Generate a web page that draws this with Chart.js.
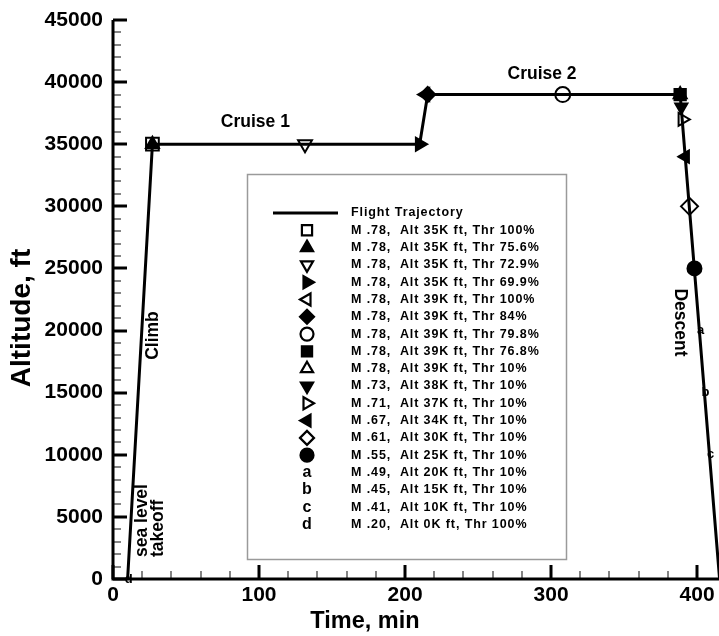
<!DOCTYPE html>
<html>
<head>
<meta charset="utf-8">
<script src="https://cdn.jsdelivr.net/npm/chart.js@4/dist/chart.umd.min.js"></script>
<style>
  html, body { margin: 0; padding: 0; background: #fff; overflow: hidden; }
  #wrap { width: 719px; height: 636px; position: relative; }
</style>
</head>
<body>
<div id="wrap"><canvas id="c"></canvas></div>
<script>
// Flight trajectory: time (min) against altitude (ft)
const trajTime = [10, 27, 210, 215.5, 388.4, 415.4];
const trajAlt  = [0, 35000, 35000, 39000, 39000, 0];

// Operating points along the trajectory
const pointLabels = [
  'M .78,  Alt 35K ft, Thr 100%',
  'M .78,  Alt 35K ft, Thr 75.6%',
  'M .78,  Alt 35K ft, Thr 72.9%',
  'M .78,  Alt 35K ft, Thr 69.9%',
  'M .78,  Alt 39K ft, Thr 100%',
  'M .78,  Alt 39K ft, Thr 84%',
  'M .78,  Alt 39K ft, Thr 79.8%',
  'M .78,  Alt 39K ft, Thr 76.8%',
  'M .78,  Alt 39K ft, Thr 10%',
  'M .73,  Alt 38K ft, Thr 10%',
  'M .71,  Alt 37K ft, Thr 10%',
  'M .67,  Alt 34K ft, Thr 10%',
  'M .61,  Alt 30K ft, Thr 10%',
  'M .55,  Alt 25K ft, Thr 10%',
  'M .49,  Alt 20K ft, Thr 10%',
  'M .45,  Alt 15K ft, Thr 10%',
  'M .41,  Alt 10K ft, Thr 10%',
  'M .20,  Alt 0K ft, Thr 100%'
];
const pointTime = [27, 27, 131.5, 210, 214, 215.5, 308, 388.4, 388.4, 389.2, 389.9, 392.0, 394.8, 398.2, 401.7, 405.1, 408.5, 10];
const pointAlt  = [35000, 35000, 35000, 35000, 39000, 39000, 39000, 39000, 39000, 38000, 37000, 34000, 30000, 25000, 20000, 15000, 10000, 0];

// Axis tick values
const xTickValues = [0, 100, 200, 300, 400];
const yTickValues = [0, 5000, 10000, 15000, 20000, 25000, 30000, 35000, 40000, 45000];

// Text notes placed in data coordinates
const notes = [
  { text: 'Cruise 1', t: 97.5, alt: 36800, rot: 0 },
  { text: 'Cruise 2', t: 293.8, alt: 40650, rot: 0 },
  { text: 'Climb', t: 27.4, alt: 19600, rot: -90 },
  { text: 'sea level', t: 19.9, alt: 1770, rot: -90, start: true },
  { text: 'takeoff', t: 30.8, alt: 1770, rot: -90, start: true },
  { text: 'Descent', t: 388.4, alt: 20650, rot: 90 }
];

const FONT = '"Liberation Sans", Arial, Helvetica, sans-serif';

// Marker appearance for each operating point
const markShape = [
  { s: 'rect', r: 9, rot: 0, fill: false },
  { s: 'triangle', r: 7.5, rot: 0, fill: true },
  { s: 'triangle', r: 8, rot: 180, fill: false },
  { s: 'triangle', r: 7.5, rot: 90, fill: true },
  { s: 'triangle', r: 7.5, rot: -90, fill: false },
  { s: 'rectRot', r: 7.5, rot: 0, fill: true },
  { s: 'circle', r: 7.5, rot: 0, fill: false },
  { s: 'rect', r: 8, rot: 0, fill: true },
  { s: 'triangle', r: 7.5, rot: 0, fill: false },
  { s: 'triangle', r: 7, rot: 180, fill: true },
  { s: 'triangle', r: 7.5, rot: 90, fill: false },
  { s: 'triangle', r: 7, rot: -90, fill: true },
  { s: 'rectRot', r: 8.5, rot: 0, fill: false },
  { s: 'circle', r: 7, rot: 0, fill: true },
  { s: 'a', r: 0, rot: 0, fill: true },
  { s: 'b', r: 0, rot: 0, fill: true },
  { s: 'c', r: 0, rot: 0, fill: true },
  { s: 'd', r: 0, rot: 0, fill: true }
];
const isLetter = m => m.s.length === 1;

const datasets = [{
  type: 'line',
  label: 'Flight Trajectory',
  data: trajTime.map((t, i) => ({ x: t, y: trajAlt[i] })),
  borderColor: '#000',
  borderWidth: 3,
  pointRadius: 0,
  tension: 0,
  fill: false,
  order: 100
}];
pointLabels.forEach((lab, i) => {
  const m = markShape[i];
  datasets.push({
    type: 'scatter',
    label: lab,
    data: [{ x: pointTime[i], y: pointAlt[i] }],
    pointStyle: isLetter(m) ? 'circle' : m.s,
    pointRotation: m.rot,
    pointRadius: isLetter(m) ? 0 : m.r,
    pointHoverRadius: isLetter(m) ? 0 : m.r,
    pointBorderWidth: 2,
    pointBorderColor: '#000',
    pointBackgroundColor: m.fill ? '#000' : 'rgba(0,0,0,0)',
    order: -i
  });
});

// Inward major/minor tick marks and the two axis lines
const innerTicks = {
  id: 'innerTicks',
  afterDatasetsDraw(chart) {
    const { ctx, chartArea: a, scales: { x, y } } = chart;
    ctx.save();
    for (let v = 0; v <= 45000; v += 1000) {
      const py = Math.round(y.getPixelForValue(v));
      const major = v % 5000 === 0;
      ctx.lineWidth = major ? 3 : 1.2;
      ctx.strokeStyle = major ? '#000' : '#333';
      ctx.beginPath(); ctx.moveTo(a.left, py); ctx.lineTo(a.left + (major ? 14 : 8), py); ctx.stroke();
    }
    for (let v = 0; v <= x.max; v += 20) {
      const px = Math.round(x.getPixelForValue(v));
      const major = v % 100 === 0;
      ctx.lineWidth = major ? 3 : 1.2;
      ctx.strokeStyle = major ? '#000' : '#333';
      ctx.beginPath(); ctx.moveTo(px, a.bottom); ctx.lineTo(px, a.bottom - (major ? 14 : 8)); ctx.stroke();
    }
    ctx.strokeStyle = '#000';
    ctx.lineWidth = 3;
    ctx.beginPath();
    ctx.moveTo(a.left, a.top); ctx.lineTo(a.left, a.bottom); ctx.lineTo(a.right + 2, a.bottom);
    ctx.stroke();
    ctx.restore();
  }
};

// Letter marks, notes, axis titles and the boxed key
const overlay = {
  id: 'overlay',
  afterDraw(chart) {
    const { ctx, scales: { x, y } } = chart;
    ctx.save();
    ctx.fillStyle = '#000';

    // letter marks at their data points
    ctx.font = 'bold 13px ' + FONT;
    ctx.textAlign = 'center';
    ctx.textBaseline = 'middle';
    markShape.forEach((m, i) => {
      if (!isLetter(m)) return;
      const el = chart.getDatasetMeta(i + 1).data[0];
      ctx.fillText(m.s, el.x + 1, el.y);
    });

    // notes
    ctx.font = 'bold 17.5px ' + FONT;
    notes.forEach(n => {
      const px = x.getPixelForValue(n.t), py = y.getPixelForValue(n.alt);
      ctx.save();
      ctx.translate(px, py);
      ctx.rotate(n.rot * Math.PI / 180);
      ctx.textAlign = n.start ? 'left' : 'center';
      ctx.textBaseline = 'middle';
      ctx.fillText(n.text, 0, 0);
      ctx.restore();
    });

    // axis titles
    ctx.textAlign = 'center';
    ctx.textBaseline = 'middle';
    ctx.font = 'bold 23.5px ' + FONT;
    ctx.fillText('Time, min', 365, 622);
    ctx.save();
    ctx.font = 'bold 28px ' + FONT;
    ctx.translate(22, 318);
    ctx.rotate(-Math.PI / 2);
    ctx.fillText('Altitude, ft', 0, 0);
    ctx.restore();

    // key box
    const bx = 247.5, by = 174.5, bw = 319, bh = 385;
    ctx.fillStyle = '#fff';
    ctx.fillRect(bx, by, bw, bh);
    ctx.strokeStyle = '#9a9a9a';
    ctx.lineWidth = 1.5;
    ctx.strokeRect(bx, by, bw, bh);

    const markX = 307, textX = 351, row0 = 213, step = 17.3;
    ctx.strokeStyle = '#000';
    ctx.lineWidth = 3;
    ctx.beginPath(); ctx.moveTo(273, row0); ctx.lineTo(338, row0); ctx.stroke();

    ctx.font = 'bold 12.5px ' + FONT;
    ctx.textAlign = 'left';
    ctx.textBaseline = 'middle';
    ctx.fillStyle = '#000';
    if ('letterSpacing' in ctx) ctx.letterSpacing = '0.9px';
    ctx.fillText('Flight Trajectory', textX, row0);
    pointLabels.forEach((lab, i) => {
      const yy = row0 + step * (i + 1);
      const m = markShape[i];
      ctx.fillStyle = '#000';
      ctx.fillText(lab, textX, yy);
      ctx.save();
      if ('letterSpacing' in ctx) ctx.letterSpacing = '0px';
      if (isLetter(m)) {
        ctx.font = 'bold 16px ' + FONT;
        ctx.textAlign = 'center';
        ctx.fillText(m.s, markX, yy);
      } else {
        ctx.fillStyle = m.fill ? '#000' : '#fff';
        ctx.strokeStyle = '#000';
        ctx.lineWidth = 2.2;
        const r = m.s === 'circle' ? 6.5 : (m.s === 'rect' ? 7.2 : 7);
        Chart.helpers.drawPoint(ctx, { pointStyle: m.s, rotation: m.rot, radius: r, borderWidth: 2.2 }, markX, yy);
      }
      ctx.restore();
    });
    ctx.restore();
  }
};

Chart.defaults.font.family = FONT;
Chart.defaults.color = '#000';

new Chart(document.getElementById('c'), {
  data: { datasets },
  options: {
    responsive: true,
    maintainAspectRatio: false,
    animation: false,
    layout: { autoPadding: false, padding: { top: 20, right: 0, bottom: 0, left: 0 } },
    plugins: { legend: { display: false }, tooltip: { enabled: false } },
    scales: {
      x: {
        type: 'linear',
        min: 0, max: 415,
        grid: { display: false, drawTicks: false },
        border: { display: false },
        afterBuildTicks: s => { s.ticks = xTickValues.map(v => ({ value: v })); },
        afterFit: s => { s.height = 57; s.paddingLeft = 0; s.paddingRight = 0; },
        ticks: { font: { size: 21, weight: 'bold' }, padding: 4, maxRotation: 0, autoSkip: false,
                 callback: v => String(v) }
      },
      y: {
        type: 'linear',
        min: 0, max: 45000,
        grid: { display: false, drawTicks: false },
        border: { display: false },
        afterBuildTicks: s => { s.ticks = yTickValues.map(v => ({ value: v })); },
        afterFit: s => { s.width = 113; s.paddingTop = 0; s.paddingBottom = 0; },
        ticks: { font: { size: 21, weight: 'bold' }, padding: 10, autoSkip: false,
                 callback: v => String(v) }
      }
    }
  },
  plugins: [innerTicks, overlay]
});
</script>
</body>
</html>
